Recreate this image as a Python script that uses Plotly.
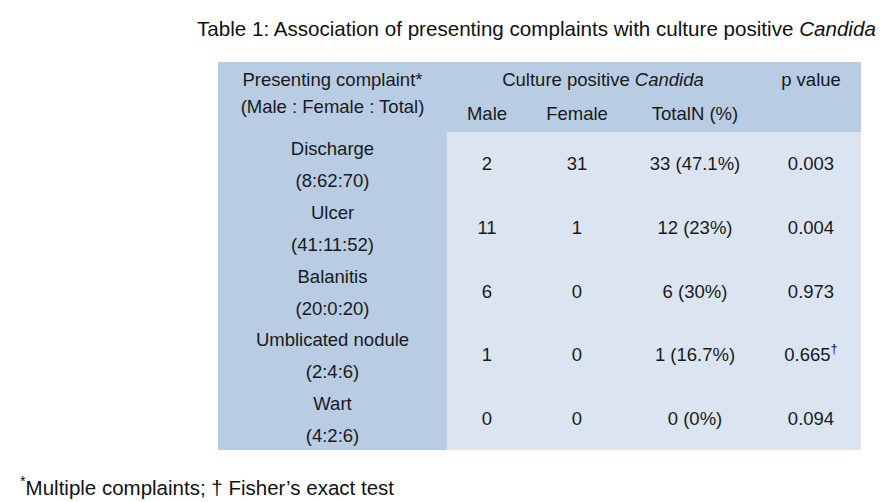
import plotly.graph_objects as go

# ---- data ----
complaints = ["Discharge", "Ulcer", "Balanitis", "Umblicated nodule", "Wart"]
ratios = ["(8:62:70)", "(41:11:52)", "(20:0:20)", "(2:4:6)", "(4:2:6)"]
male = [2, 11, 6, 1, 0]
female = [31, 1, 0, 0, 0]
total_n = [33, 12, 6, 1, 0]
total_pct = ["47.1%", "23%", "30%", "16.7%", "0%"]
p_values = ["0.003", "0.004", "0.973", "0.665<sup>†</sup>", "0.094"]
col_headers = ["Male", "Female", "TotalN (%)"]

# ---- layout constants (pixel units on the axes) ----
W, H = 885, 502
x_edges = [218, 447, 861]
y_edges = [62, 132, 450]
col_x = [332.5, 487, 577, 695, 811]
row_h = (y_edges[2] - y_edges[1]) / len(complaints)
row_c = [y_edges[1] + row_h * (i + 0.5) + 2 for i in range(len(complaints))]

HEAD = "#b8cce4"
BODY = "#dbe5f1"
TXT = "#1a1a1a"
FONT = "Liberation Sans, Arial, sans-serif"
FS = 18.5

fig = go.Figure()

# cell backgrounds
fig.add_trace(go.Heatmap(
    x=x_edges, y=y_edges, z=[[0, 0], [0, 1]],
    colorscale=[[0, HEAD], [1, BODY]], showscale=False, hoverinfo="skip",
    zmin=0, zmax=1,
))

def txt(xs, ys, texts, size=FS):
    fig.add_trace(go.Scatter(
        x=xs, y=ys, text=texts, mode="text", textposition="middle center",
        textfont=dict(family=FONT, size=size, color=TXT), hoverinfo="skip",
        showlegend=False,
    ))

# header
txt([col_x[0], col_x[0]], [81, 108], ["Presenting complaint*", "(Male : Female : Total)"])
txt([(col_x[1] + col_x[3]) / 2 + 12], [81], ["Culture positive <i>Candida</i>"])
txt([col_x[4]], [81], ["p value"])
txt(col_x[1:4], [115] * 3, col_headers)

# body
txt([col_x[0]] * 5, [c - 15 for c in row_c], complaints)
txt([col_x[0]] * 5, [c + 17 for c in row_c], ratios)
txt([col_x[1]] * 5, row_c, [str(v) for v in male])
txt([col_x[2]] * 5, row_c, [str(v) for v in female])
txt([col_x[3]] * 5, row_c, [f"{n} ({p})" for n, p in zip(total_n, total_pct)])
txt([col_x[4]] * 5, row_c, p_values)

# title and footnote
fig.add_annotation(x=878, y=28, xref="x", yref="y", xanchor="right", yanchor="middle",
                   text="Table 1: Association of presenting complaints with culture positive <i>Candida</i>",
                   showarrow=False, font=dict(family=FONT, size=20.6, color="#111"))
fig.add_annotation(x=18, y=486, xref="x", yref="y", xanchor="left", yanchor="middle",
                   text="<sup>*</sup>Multiple complaints; † Fisher’s exact test",
                   showarrow=False, font=dict(family=FONT, size=20.5, color="#111"))

fig.update_xaxes(range=[0, W], visible=False, fixedrange=True)
fig.update_yaxes(range=[H, 0], visible=False, fixedrange=True)
fig.update_layout(width=W, height=H, margin=dict(l=0, r=0, t=0, b=0),
                  plot_bgcolor="white", paper_bgcolor="white", showlegend=False)

fig.write_html("out.html", config={"displayModeBar": False},
               post_script="document.body.style.margin='0';document.body.style.overflow='hidden';")
